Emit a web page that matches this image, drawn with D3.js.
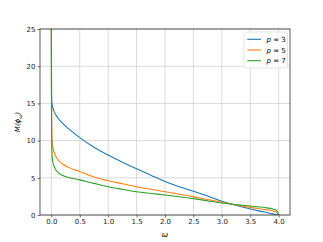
<!DOCTYPE html>
<html>
<head>
<meta charset="utf-8">
<script src="https://cdn.jsdelivr.net/npm/d3@7"></script>
<style>
  body { margin: 0; background: #fff; }
  text { font-family: "DejaVu Sans", sans-serif; }
</style>
</head>
<body>
<div id="chart"></div>
<script>
// sample points along omega, shared by all three curves
const omega = [0, 0.003, 0.01, 0.02, 0.05, 0.1, 0.2, 0.3, 0.5, 0.75, 1.0, 1.25, 1.5, 1.75,
  2.0, 2.25, 2.5, 2.75, 3.0, 3.25, 3.5, 3.75, 3.9, 3.97, 4.0];
const p3 = [26, 16.5, 15.0, 14.6, 13.9, 13.2, 12.3, 11.6, 10.4, 9.1, 8.06, 7.1, 6.2, 5.35,
  4.5, 3.8, 3.2, 2.55, 1.85, 1.3, 0.8, 0.4, 0.15, 0.05, 0];
const p5 = [26, 16, 10.5, 9.4, 8.4, 7.6, 6.85, 6.4, 5.85, 5.1, 4.61, 4.2, 3.8, 3.45,
  3.13, 2.8, 2.47, 2.08, 1.72, 1.35, 1.03, 0.75, 0.55, 0.35, 0];
const p7 = [26, 14, 8.5, 7.4, 6.5, 5.85, 5.3, 5.05, 4.72, 4.25, 3.8, 3.45, 3.13, 2.9,
  2.69, 2.45, 2.2, 1.9, 1.62, 1.4, 1.2, 1.0, 0.8, 0.55, 0];
const seriesNames = ['p = 3', 'p = 5', 'p = 7'];
const colors = ['#1f77b4', '#ff7f0e', '#2ca02c'];
const xTicks = [0, 0.5, 1.0, 1.5, 2.0, 2.5, 3.0, 3.5, 4.0];
const yTicks = [0, 5, 10, 15, 20, 25];

const W = 323, H = 242;
const margin = { top: 29, right: 33, bottom: 27, left: 40 };
const width = W - margin.left - margin.right;
const height = H - margin.top - margin.bottom;

const svg = d3.select('#chart')
  .append('svg')
  .attr('width', W)
  .attr('height', H);

const g = svg.append('g')
  .attr('transform', `translate(${margin.left},${margin.top})`);

const x = d3.scaleLinear().domain([-0.2, 4.2]).range([0, width]);
const y = d3.scaleLinear().domain([0, 25]).range([height, 0]);

// grid
g.selectAll('.vgrid').data(xTicks).enter().append('line')
  .attr('x1', d => x(d)).attr('x2', d => x(d))
  .attr('y1', 0).attr('y2', height)
  .attr('stroke', '#d6d6d6').attr('stroke-width', 0.9);
g.selectAll('.hgrid').data(yTicks).enter().append('line')
  .attr('x1', 0).attr('x2', width)
  .attr('y1', d => y(d)).attr('y2', d => y(d))
  .attr('stroke', '#d6d6d6').attr('stroke-width', 0.9);

// axes
const xAxis = g.append('g')
  .attr('transform', `translate(0,${height})`)
  .call(d3.axisBottom(x).tickValues(xTicks).tickFormat(d3.format('.1f')).tickSize(2.5).tickPadding(2));
const yAxis = g.append('g')
  .call(d3.axisLeft(y).tickValues(yTicks).tickFormat(d3.format('d')).tickSize(2.5).tickPadding(2));
[xAxis, yAxis].forEach(a => {
  a.select('.domain').remove();
  a.selectAll('text').attr('font-size', 7).attr('fill', '#222').attr('font-family', '"DejaVu Sans", sans-serif');
  a.selectAll('line').attr('stroke', '#333').attr('stroke-width', 0.7);
});

// clip for curves
svg.append('defs').append('clipPath').attr('id', 'clip')
  .append('rect').attr('width', width).attr('height', height);

const line = d3.line()
  .x(d => x(d[0]))
  .y(d => y(d[1]))
  .curve(d3.curveMonotoneX);

const series = [p3, p5, p7];
series.forEach((vals, i) => {
  g.append('path')
    .datum(omega.map((w, j) => [w, vals[j]]))
    .attr('clip-path', 'url(#clip)')
    .attr('fill', 'none')
    .attr('stroke', colors[i])
    .attr('stroke-width', 1.1)
    .attr('d', line);
});

// frame
g.append('rect')
  .attr('width', width).attr('height', height)
  .attr('fill', 'none').attr('stroke', '#333').attr('stroke-width', 0.8);

// axis labels
svg.append('text')
  .attr('x', margin.left + width / 2).attr('y', 237)
  .attr('text-anchor', 'middle').attr('font-size', 7.5).attr('font-style', 'italic')
  .text('ω');

const yl = svg.append('text')
  .attr('transform', `translate(20,${margin.top + height / 2}) rotate(-90)`)
  .attr('text-anchor', 'middle').attr('font-size', 7).attr('font-style', 'italic');
yl.append('tspan').text('M(ϕ');
yl.append('tspan').attr('font-size', 5).attr('dy', 1.5).text('ω');
yl.append('tspan').attr('dy', -1.5).text(')');

// legend
const lg = svg.append('g').attr('transform', 'translate(244,32)');
lg.append('rect')
  .attr('width', 43.5).attr('height', 36)
  .attr('rx', 1.5)
  .attr('fill', '#fff').attr('fill-opacity', 0.8)
  .attr('stroke', '#ddd').attr('stroke-width', 0.8);
seriesNames.forEach((name, i) => {
  const yy = 7.3 + i * 10.7;
  lg.append('line')
    .attr('x1', 3.3).attr('x2', 17)
    .attr('y1', yy).attr('y2', yy)
    .attr('stroke', colors[i]).attr('stroke-width', 1.1);
  const t = lg.append('text')
    .attr('x', 22.5).attr('y', yy + 2.5)
    .attr('font-size', 7);
  t.append('tspan').attr('font-style', 'italic').text('p');
  t.append('tspan').text(name.slice(1));
});
</script>
</body>
</html>
